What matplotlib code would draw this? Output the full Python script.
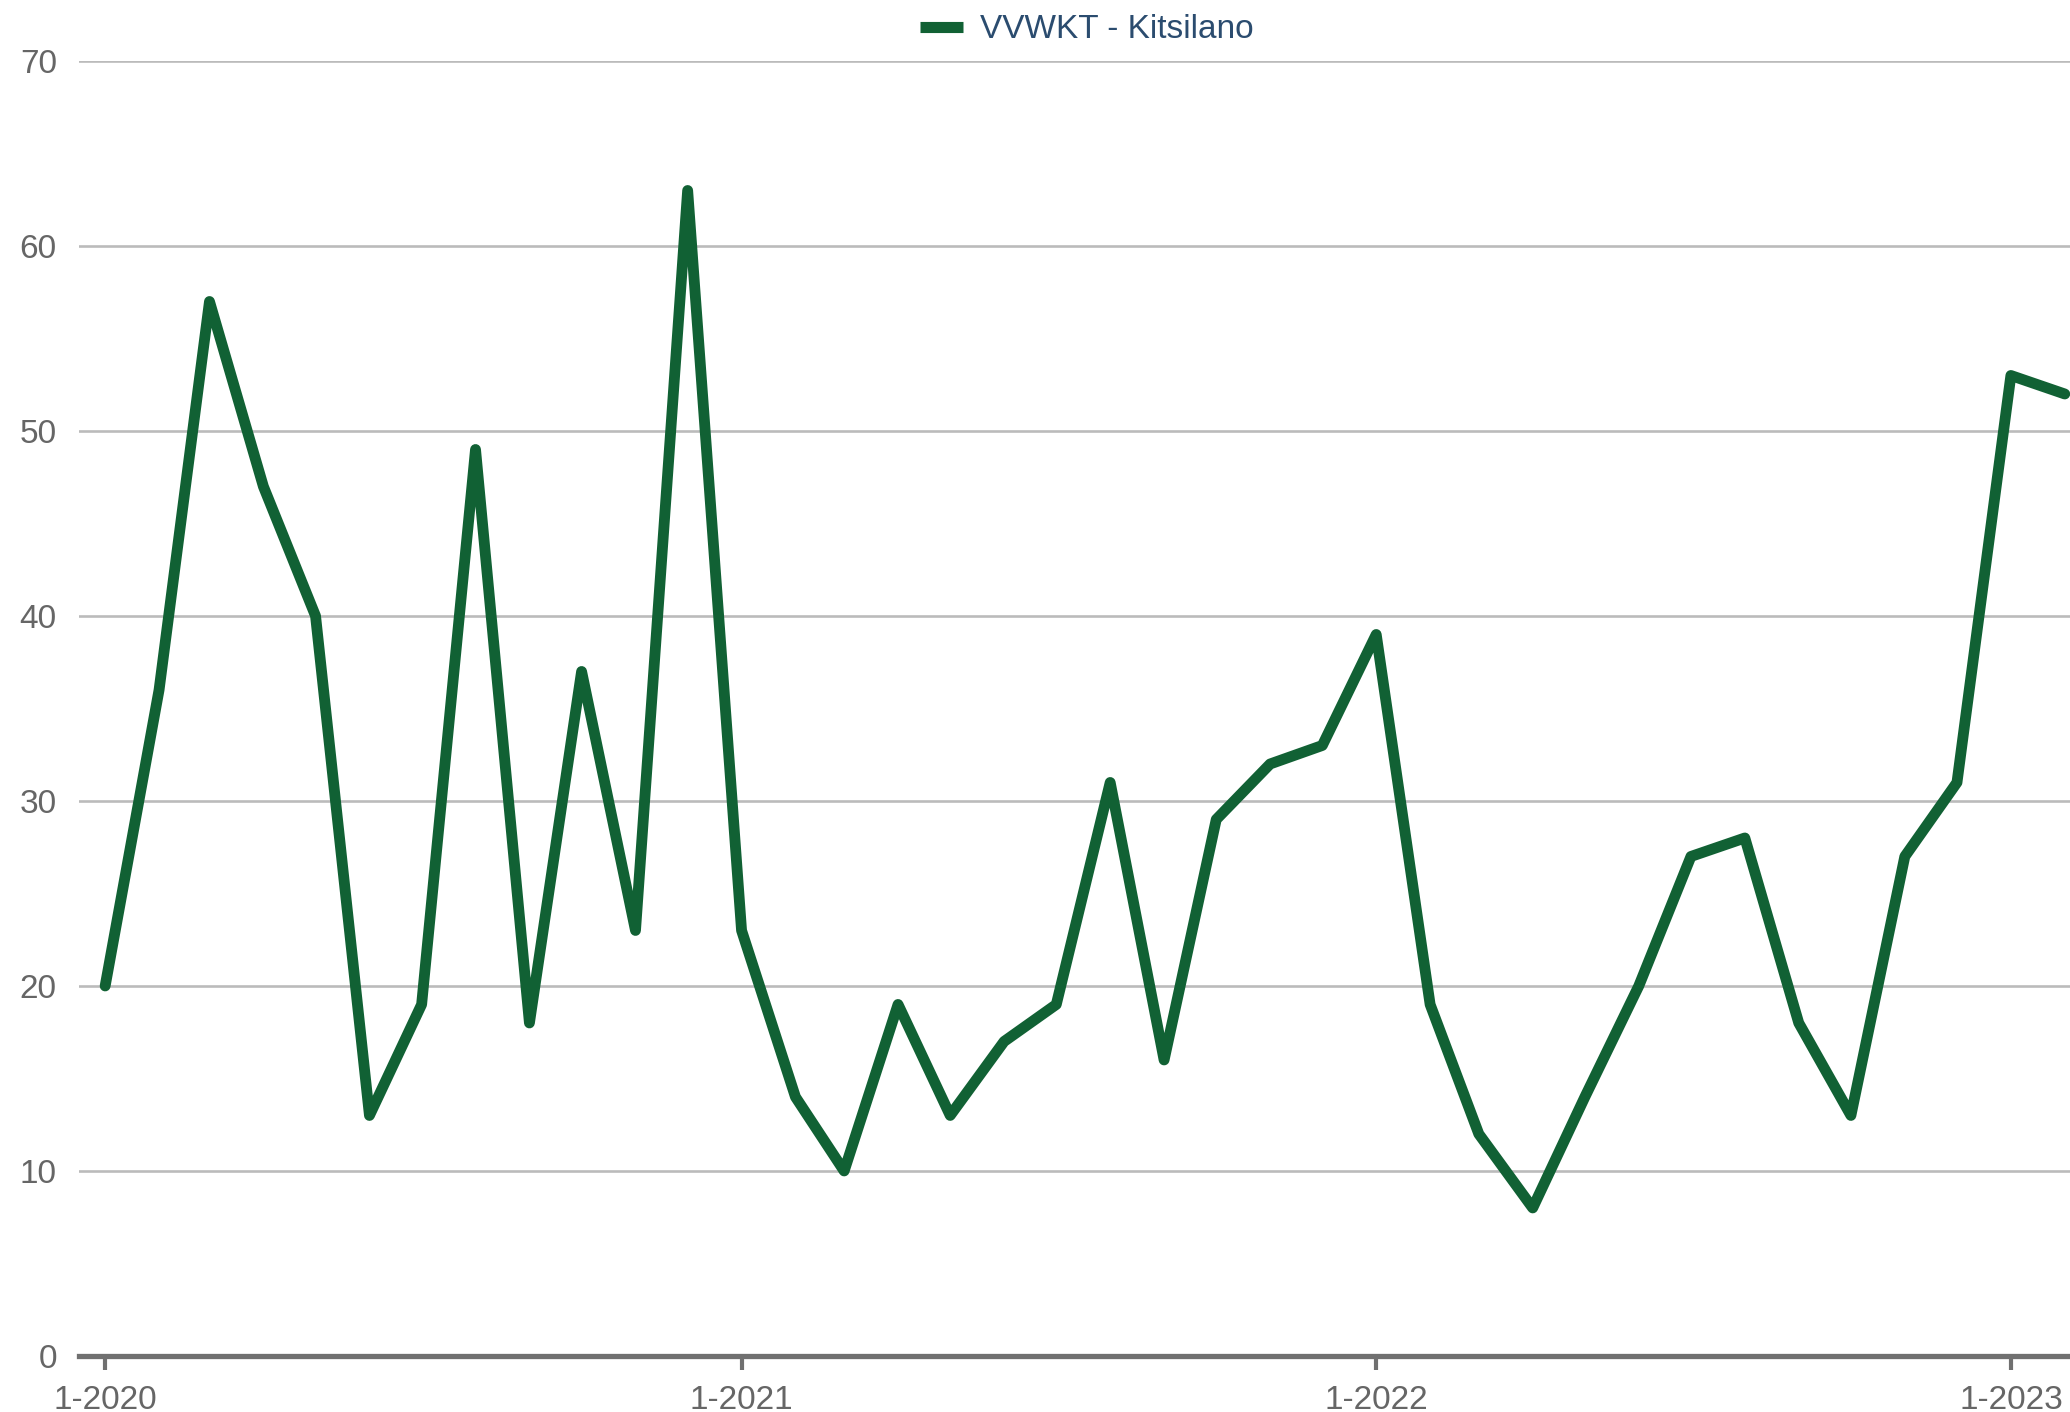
import numpy as np
import pandas as pd
import matplotlib
matplotlib.use("Agg")
import matplotlib.pyplot as plt

# monthly values, Jan 2020 .. Feb 2023
start = "2020-01-01"
values = [20, 36, 57, 47, 40, 13, 19, 49, 18, 37, 23, 63,
          23, 14, 10, 19, 13, 17, 19, 31, 16, 29, 32, 33,
          39, 19, 12, 8, 14, 20, 27, 28, 18, 13, 27, 31,
          53, 52]
series_name = "VVWKT - Kitsilano"
tick_dates = ["2020-01-01", "2021-01-01", "2022-01-01", "2023-01-01"]
tick_labels = ["1-2020", "1-2021", "1-2022", "1-2023"]
yticks = [0, 10, 20, 30, 40, 50, 60, 70]

dates = pd.date_range(start, periods=len(values), freq="MS")

plt.rcParams["font.family"] = ["Liberation Sans", "DejaVu Sans"]

fig = plt.figure(figsize=(20.7, 14.12), dpi=100)
ax = fig.add_axes([0.0382, 0.0397, 0.9618, 0.9171])

line_color = "#116134"
ax.plot(dates, values, color=line_color, lw=7.8, solid_joinstyle="round",
        solid_capstyle="round", label=series_name, zorder=3, clip_on=False)

ax.set_ylim(0, 70)
ax.set_xlim(pd.Timestamp("2019-12-17"), pd.Timestamp("2023-02-04"))
ax.set_yticks(yticks)
ax.set_yticklabels([str(v) for v in yticks])
ax.set_xticks([pd.Timestamp(d) for d in tick_dates])
ax.set_xticklabels(tick_labels)

ax.grid(axis="y", color="#bbbbbb", lw=1.9, zorder=0)
ax.set_axisbelow(True)
for s in ["top", "right", "left"]:
    ax.spines[s].set_visible(False)
ax.spines["bottom"].set_color("#707070")
ax.spines["bottom"].set_linewidth(3.8)
ax.spines["bottom"].set_zorder(4)

ax.tick_params(axis="y", length=0, pad=16, labelsize=24, labelcolor="#666666")
ax.tick_params(axis="x", length=10, width=3, color="#707070", pad=11,
               labelsize=24, labelcolor="#666666")

leg = ax.legend(loc="center", bbox_to_anchor=(0.506, 1.024), frameon=False,
                fontsize=24, handlelength=1.3, handletextpad=0.5,
                borderpad=0, borderaxespad=0)
for t in leg.get_texts():
    t.set_color("#2b4c6f")
for h in leg.get_lines():
    h.set_linewidth(8)
    h.set_solid_capstyle("butt")

fig.savefig("out.png", dpi=100)
